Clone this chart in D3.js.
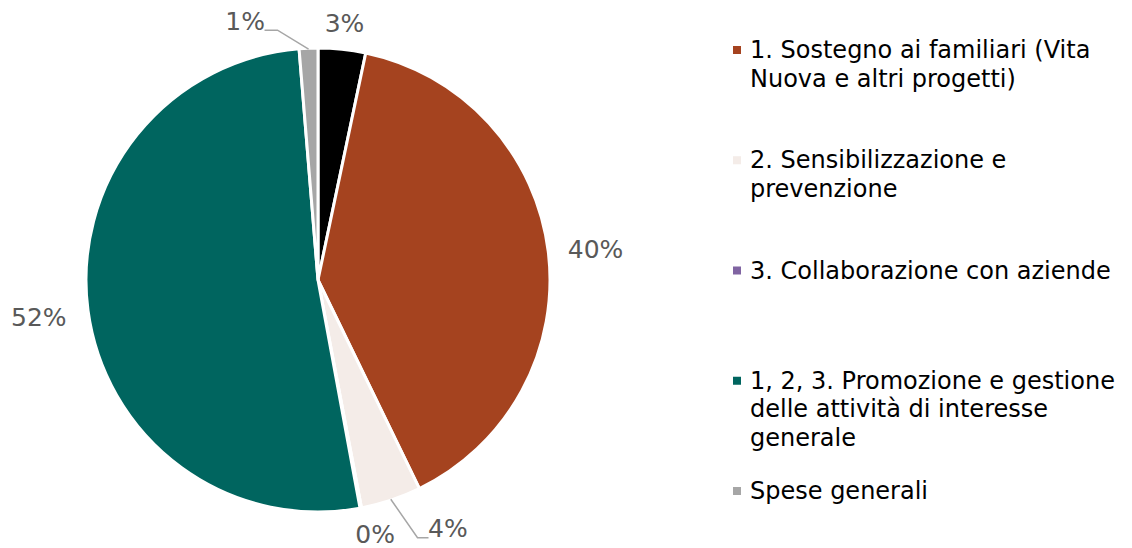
<!DOCTYPE html>
<html>
<head>
<meta charset="utf-8">
<script src="https://cdn.jsdelivr.net/npm/d3@7"></script>
<style>
  body { margin: 0; background: #fff; }
  .graph { width: 1132px; height: 548px; }
</style>
</head>
<body>
<div class="graph"></div>
<script>
// data (percent of total)
const categories = ["", "1. Sostegno ai familiari (Vita Nuova e altri progetti)", "2. Sensibilizzazione e prevenzione",
    "3. Collaborazione con aziende", "1, 2, 3. Promozione e gestione delle attività di interesse generale", "Spese generali"]
const values = [3.3, 39.5, 4.2, 0.1, 51.6, 1.3]
const legendLines = [
    [],
    ["1. Sostegno ai familiari (Vita", "Nuova e altri progetti)"],
    ["2. Sensibilizzazione e", "prevenzione"],
    ["3. Collaborazione con aziende"],
    ["1, 2, 3. Promozione e gestione", "delle attività di interesse", "generale"],
    ["Spese generali"]
]
const colors = ["#000000", "#A5431F", "#F4ECE8", "#8064A2", "#00655F", "#A6A6A6"]

// label tweaks (pixels) for the crowded slices, and which ones get a leader line
const labelShift = {0: [-1, 4], 1: [5, 2], 2: [46, 0], 3: [8, -3], 4: [-7, 3], 5: [-62, 3]}
const leader = new Set([2, 5])

const width = 1132, height = 548
const cx = 318, cy = 280, radius = 232

const data = categories.map((c, i) => ({name: c, value: values[i], color: colors[i], lines: legendLines[i], i: i}))
const total = d3.sum(values)

const svg = d3.select(".graph").append("svg")
    .attr("width", width)
    .attr("height", height)
    .style("font-family", "'DejaVu Sans', Verdana, sans-serif")

const pie = d3.pie().sort(null).value(d => d.value)
const arc = d3.arc().innerRadius(0).outerRadius(radius)
const arcs = pie(data)

const g = svg.append("g").attr("transform", `translate(${cx},${cy})`)

g.selectAll("path")
    .data(arcs)
    .join("path")
    .attr("d", arc)
    .attr("fill", d => d.data.color)
    .attr("stroke", "#fff")
    .attr("stroke-width", 3)
    .attr("stroke-linejoin", "round")

const pct = d3.format(".0%")
const labelR = 250

function labelPos(d) {
    const a = (d.startAngle + d.endAngle) / 2
    const txt = pct(d.data.value / total)
    const hw = txt.length * 8.2, hh = 12
    const s = labelShift[d.data.i] || [0, 0]
    return {
        a: a,
        x: labelR * Math.sin(a) + hw * Math.sin(a) + s[0],
        y: -labelR * Math.cos(a) - hh * Math.cos(a) + s[1],
        hw: hw,
        txt: txt
    }
}

// leader lines
g.selectAll("polyline")
    .data(arcs.filter(d => leader.has(d.data.i)))
    .join("polyline")
    .attr("fill", "none")
    .attr("stroke", "#A6A6A6")
    .attr("stroke-width", 1.5)
    .attr("points", d => {
        const p = labelPos(d)
        const sx = (radius - 1) * Math.sin(p.a), sy = -(radius - 1) * Math.cos(p.a)
        const left = p.x < sx
        const ex = left ? p.x + p.hw + 3 : p.x - p.hw - 3
        const ey = p.y + 9
        const mx = left ? ex + 13 : ex - 11
        return [[sx, sy], [mx, ey], [ex, ey]].map(q => q.join(",")).join(" ")
    })

g.selectAll("text.lbl")
    .data(arcs)
    .join("text")
    .attr("class", "lbl")
    .attr("x", d => labelPos(d).x)
    .attr("y", d => labelPos(d).y)
    .attr("text-anchor", "middle")
    .attr("dominant-baseline", "central")
    .style("font-size", "25px")
    .style("fill", "#595959")
    .text(d => labelPos(d).txt)

// legend
const legendData = data.filter(d => d.name !== "")
const legendY = d3.scalePoint()
    .domain(legendData.map(d => d.name))
    .range([50, 491])

const lg = svg.append("g")
    .selectAll("g")
    .data(legendData)
    .join("g")
    .attr("transform", d => `translate(733,${legendY(d.name)})`)

lg.append("rect")
    .attr("x", 0)
    .attr("y", -4)
    .attr("width", 8)
    .attr("height", 8)
    .attr("fill", d => d.color)

lg.append("text")
    .attr("x", 17)
    .attr("y", 0)
    .attr("dominant-baseline", "central")
    .style("font-size", "24px")
    .style("fill", "#000")
    .selectAll("tspan")
    .data(d => d.lines)
    .join("tspan")
    .attr("x", 17)
    .attr("dy", (d, i) => i === 0 ? 0 : 28.5)
    .text(d => d)
</script>
</body>
</html>
